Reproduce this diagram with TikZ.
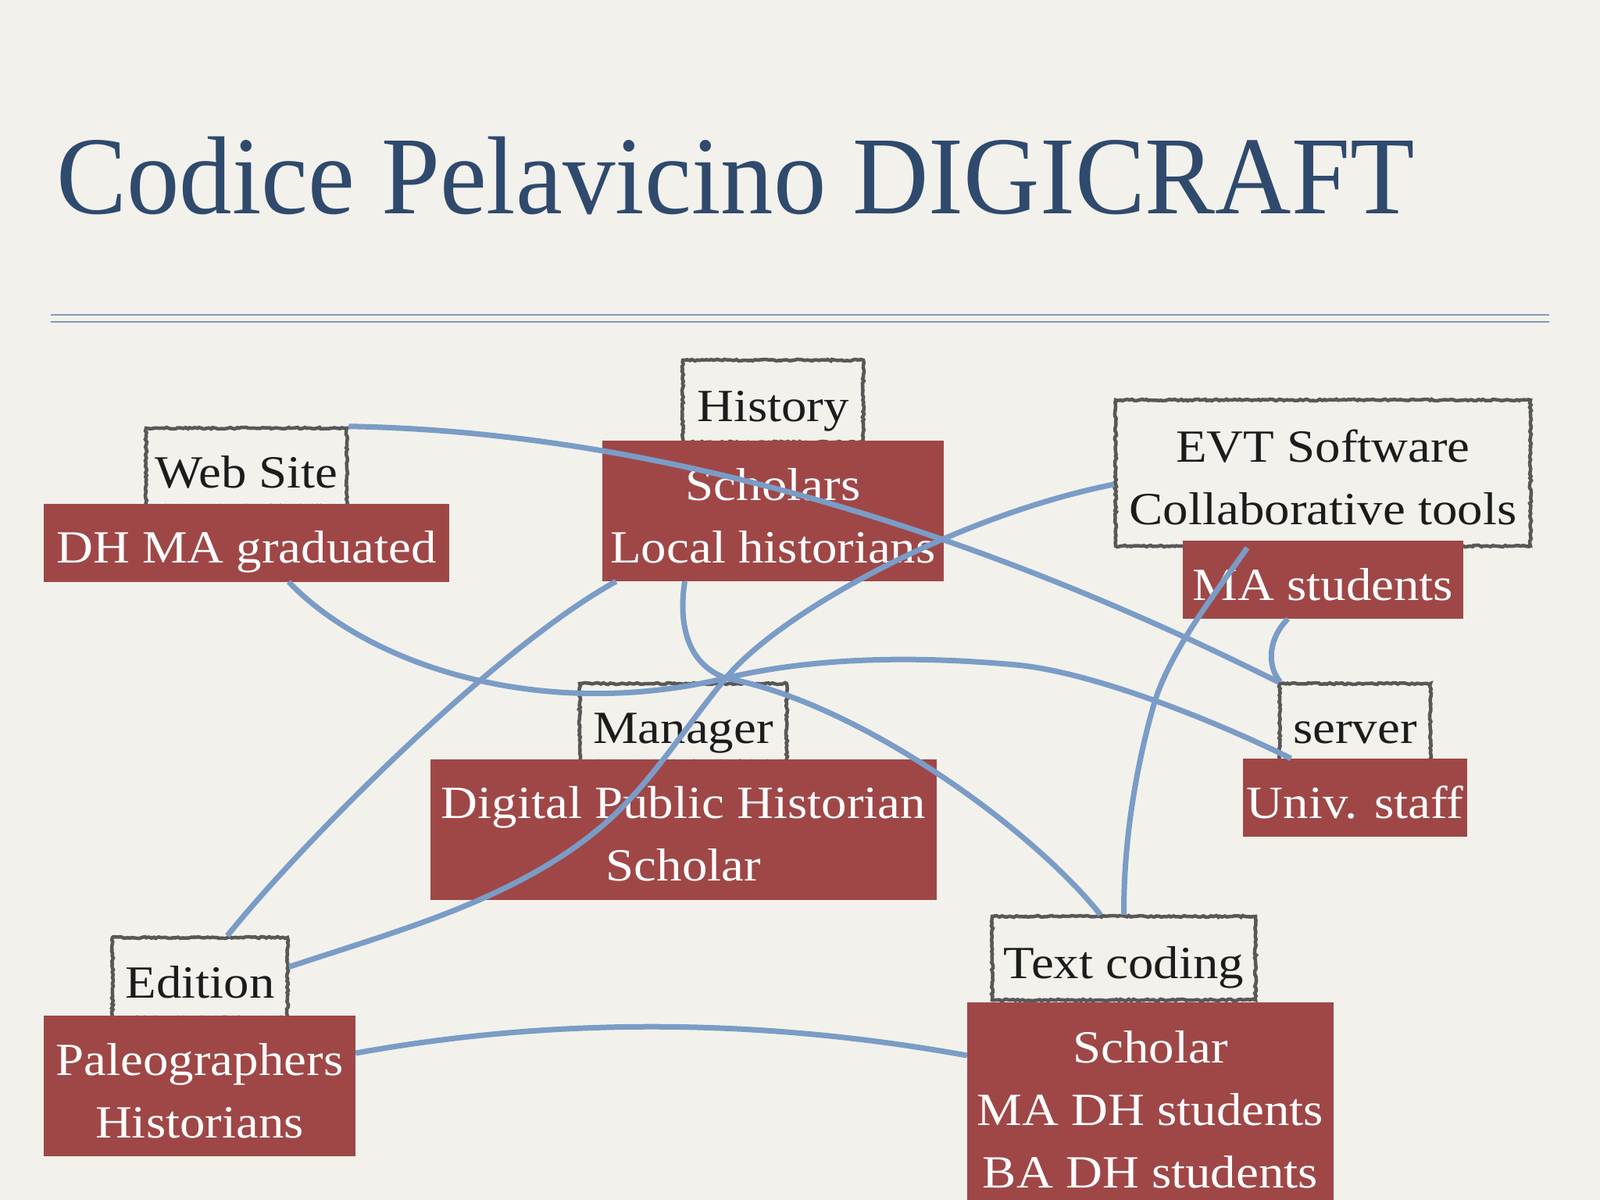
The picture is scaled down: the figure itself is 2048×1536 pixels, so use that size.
\documentclass[tikz,border=0pt]{standalone}
\usepackage{fontspec}
\setmainfont[FakeStretch=1.10]{Liberation Serif}
\newfontfamily\titlefont[FakeStretch=0.95]{Liberation Serif}
\usetikzlibrary{decorations.pathmorphing}
\definecolor{paper}{HTML}{F3F1EC}
\definecolor{boxred}{HTML}{9F4747}
\definecolor{linkblue}{HTML}{7A9CC6}
\definecolor{titleblue}{HTML}{2F4A6D}
\definecolor{rulecol}{HTML}{8299BF}
\definecolor{sketch}{HTML}{585858}
\definecolor{ink}{HTML}{1C1C1C}
\newcommand\lo[1]{\raisebox{0pt}[\dimexpr\height+20pt\relax][\depth]{\begin{tabular}{@{}c@{}}#1\end{tabular}}}
\begin{document}
\begin{tikzpicture}[x=1pt,y=-1pt,
  bodyfont/.style={font=\fontsize{59}{80}\selectfont},
  redbox/.style={fill=boxred, text=white, inner sep=0pt, bodyfont},
  sketchbox/.style={draw=sketch, line width=4.5pt, decorate,
    decoration={random steps, segment length=3pt, amplitude=1.1pt},
    text=ink, inner sep=0pt, bodyfont},
  link/.style={draw=linkblue, line width=7pt},
  rulestyle/.style={draw=rulecol, line width=2.5pt}]
\fill[paper] (0,0) rectangle (2048,1536);
\useasboundingbox (0,0) rectangle (2048,1536);

% title and rule
\node[anchor=base west, inner sep=0pt, text=titleblue,
  font=\titlefont\fontsize{142}{150}\selectfont] (title) at (72,273) {Codice Pelavicino DIGICRAFT};
\draw[rulestyle] (65,403) -- (1983,403);
\draw[rulestyle] (65,412) -- (1983,412);

% outlined boxes
\node[sketchbox, minimum width=257pt, minimum height=98pt] (web) at (315.5,598) {\lo{Web Site}};
\node[sketchbox, minimum width=231pt, minimum height=105pt] (history) at (989.5,513.5) {\lo{History}};
\node[sketchbox, minimum width=531pt, minimum height=187pt] (evt) at (1693.5,605.5) {\lo{EVT Software\\Collaborative tools}};
\node[sketchbox, minimum width=265pt, minimum height=98pt] (manager) at (874.5,925) {\lo{Manager}};
\node[sketchbox, minimum width=193pt, minimum height=98pt] (server) at (1734.5,925) {\lo{server}};
\node[sketchbox, minimum width=224pt, minimum height=103pt] (edition) at (256,1251.5) {\lo{Edition}};
\node[sketchbox, minimum width=337pt, minimum height=107pt] (textcoding) at (1438.5,1226.5) {\lo{Text coding}};

% red boxes
\node[redbox, minimum width=519pt, minimum height=95pt] (dhma) at (315.5,694.5) {\lo{DH MA graduated}};
\node[redbox, minimum width=437pt, minimum height=176pt] (scholars) at (989.5,654) {\lo{Scholars\\Local historians}};
\node[redbox, minimum width=359pt, minimum height=92pt] (ma) at (1693.5,742) {\lo{MA students}};
\node[redbox, minimum width=648pt, minimum height=175pt] (dph) at (875,1061.5) {\lo{Digital Public Historian\\Scholar}};
\node[redbox, minimum width=287pt, minimum height=94pt] (univ) at (1734.5,1021) {\lo{Univ. staff}};
\node[redbox, minimum width=399pt, minimum height=174pt] (paleo) at (255.5,1390) {\lo{Paleographers\\Historians}};
\node[redbox, minimum width=469pt, minimum height=262pt] (scholar3) at (1472.5,1414) {\lo{Scholar\\MA DH students\\BA DH students}};

% crossing point of three connectors
\coordinate (hub) at (929,868);

% connectors
\draw[link] (web.north east) .. controls (800,552) and (1200,655) .. (server.north west);
\draw[link] ([xshift=-45pt]ma.south) .. controls (1625,815) and (1620,850) .. ([xshift=-96pt]server.north);
\draw[link] ([xshift=54pt]dhma.south) .. controls (470,850) and (690,925) .. (hub)
  .. controls (1060,837) and (1200,842) .. (1300,851)
  .. controls (1400,860) and (1560,925) .. ([xshift=-82pt]univ.north);
\draw[link] ([xshift=-113pt]scholars.south) .. controls (868,800) and (880,850) .. (hub)
  .. controls (1100,900) and (1320,1060) .. ([xshift=-30pt]textcoding.north);
\draw[link] ([xshift=-201pt]scholars.south) .. controls (630,832) and (382,1084) .. ([xshift=35pt]edition.north);
\draw[link] ([yshift=-14.5pt]evt.west) .. controls (1225,660) and (999,783) .. (hub)
  .. controls (876.5,931) and (833,1004) .. (771,1057)
  .. controls (661,1151) and (510,1191) .. ([yshift=14pt]edition.east);
\draw[link] ([xshift=-97pt]evt.south) .. controls (1555,760) and (1500,830) .. (1478,898)
  .. controls (1460,960) and (1438,1060) .. (textcoding.north);
\draw[link] ([yshift=42pt]paleo.east) .. controls (715,1301) and (978,1304) .. ([yshift=63pt]scholar3.west);
\end{tikzpicture}
\end{document}
